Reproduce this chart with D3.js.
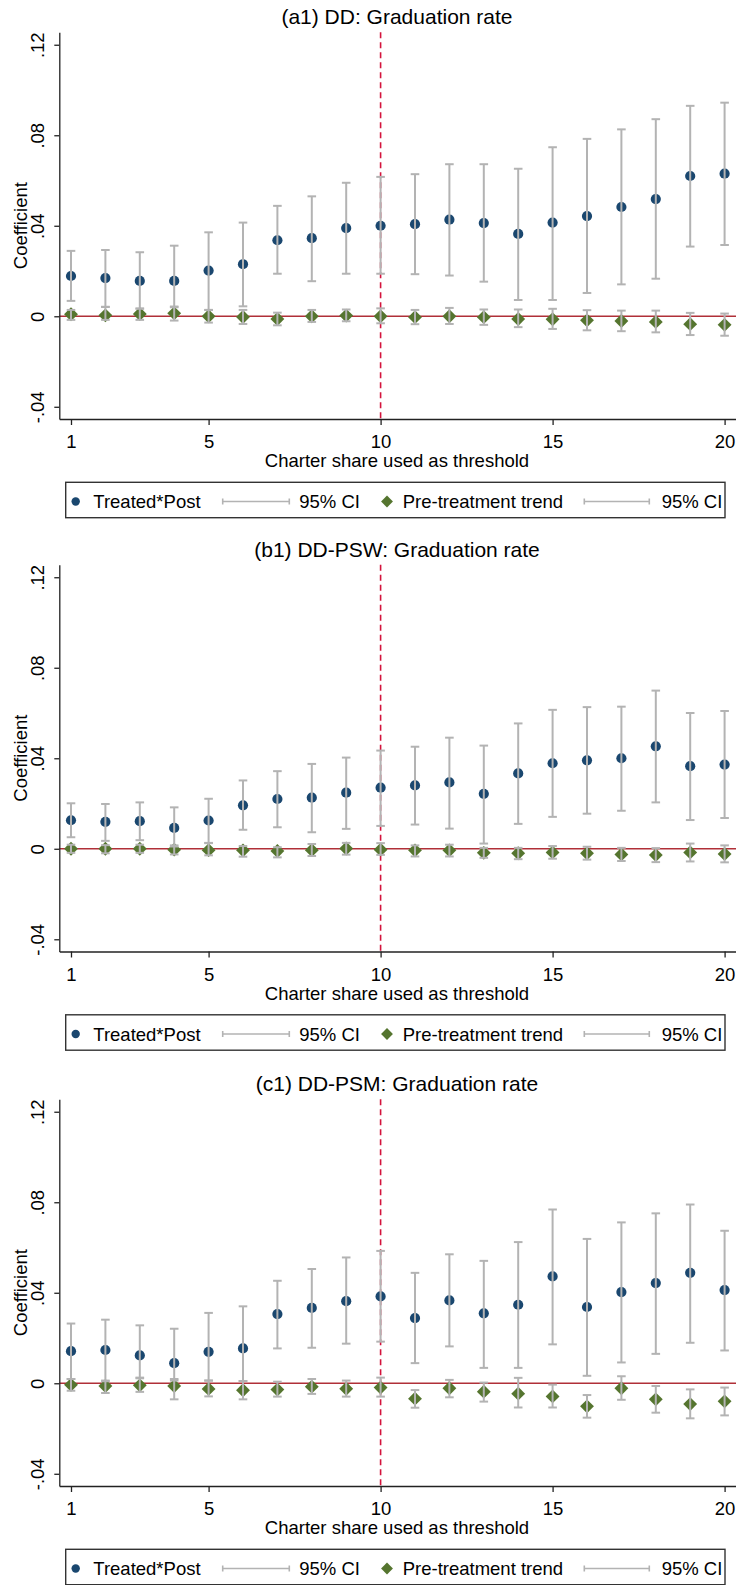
<!DOCTYPE html>
<html lang="en">
<head>
<meta charset="utf-8">
<title>Graduation rate: coefficients by charter share threshold</title>
<script src="https://d3js.org/d3.v7.min.js"></script>
<style>
  body { margin: 0; background: #fff; }
  svg { display: block; font-family: "Liberation Sans", Arial, sans-serif; }
  .axis path, .axis line { stroke: #222; stroke-width: 1.3; }
  .axis text { font-size: 18.5px; fill: #000; }
</style>
</head>
<body>
<svg id="chart" width="736" height="1585"></svg>
<script>
// thresholds (charter share used as threshold)
const thresholds = d3.range(1, 21);

// panel titles
const titles = ["(a1) DD: Graduation rate", "(b1) DD-PSW: Graduation rate", "(c1) DD-PSM: Graduation rate"];

// (a1) DD
const aPost   = [0.0178,0.0169,0.0156,0.0156,0.0202,0.0230,0.0336,0.0345,0.0390,0.0400,0.0407,0.0427,0.0412,0.0364,0.0414,0.0443,0.0483,0.0518,0.0620,0.0630];
const aPostLo = [0.0068,0.0042,0.0034,0.0040,0.0028,0.0044,0.0188,0.0155,0.0188,0.0188,0.0186,0.0180,0.0153,0.0072,0.0072,0.0103,0.0141,0.0166,0.0308,0.0315];
const aPostHi = [0.0289,0.0293,0.0283,0.0312,0.0371,0.0414,0.0488,0.0530,0.0590,0.0616,0.0628,0.0672,0.0672,0.0652,0.0747,0.0784,0.0826,0.0871,0.0930,0.0944];
const aPre    = [0.0009,0.0004,0.0010,0.0013,0.0000,-0.0003,-0.0012,0.0000,0.0003,0.0000,-0.0004,0.0000,-0.0004,-0.0012,-0.0013,-0.0018,-0.0021,-0.0025,-0.0035,-0.0038];
const aPreLo  = [-0.0016,-0.0016,-0.0016,-0.0019,-0.0028,-0.0034,-0.0040,-0.0025,-0.0022,-0.0031,-0.0035,-0.0034,-0.0038,-0.0048,-0.0056,-0.0062,-0.0066,-0.0071,-0.0083,-0.0086];
const aPreHi  = [0.0028,0.0041,0.0034,0.0043,0.0028,0.0028,0.0016,0.0028,0.0030,0.0035,0.0028,0.0037,0.0030,0.0030,0.0033,0.0027,0.0025,0.0025,0.0015,0.0012];

// (b1) DD-PSW
const bPost   = [0.0126,0.0119,0.0122,0.0092,0.0125,0.0192,0.0220,0.0226,0.0248,0.0270,0.0280,0.0293,0.0243,0.0333,0.0378,0.0391,0.0400,0.0453,0.0365,0.0372];
const bPostLo = [0.0051,0.0035,0.0038,0.0010,0.0025,0.0084,0.0095,0.0073,0.0088,0.0101,0.0107,0.0089,0.0023,0.0110,0.0141,0.0155,0.0168,0.0205,0.0127,0.0136];
const bPostHi = [0.0201,0.0198,0.0205,0.0183,0.0221,0.0302,0.0343,0.0375,0.0403,0.0434,0.0451,0.0491,0.0456,0.0554,0.0614,0.0626,0.0628,0.0699,0.0600,0.0609];
const bPre    = [0.0000,0.0000,0.0000,-0.0004,-0.0006,-0.0007,-0.0010,-0.0006,0.0001,-0.0004,-0.0007,-0.0007,-0.0018,-0.0020,-0.0016,-0.0020,-0.0025,-0.0028,-0.0016,-0.0023];
const bPreLo  = [-0.0018,-0.0020,-0.0018,-0.0025,-0.0029,-0.0035,-0.0038,-0.0032,-0.0026,-0.0027,-0.0034,-0.0034,-0.0040,-0.0046,-0.0044,-0.0048,-0.0054,-0.0059,-0.0056,-0.0060];
const bPreHi  = [0.0018,0.0016,0.0018,0.0015,0.0026,0.0012,0.0007,0.0021,0.0026,0.0025,0.0015,0.0018,0.0004,0.0004,0.0012,0.0009,0.0004,0.0003,0.0023,0.0015];

// (c1) DD-PSM
const cPost   = [0.0142,0.0147,0.0123,0.0089,0.0139,0.0154,0.0306,0.0333,0.0363,0.0384,0.0288,0.0366,0.0309,0.0347,0.0472,0.0337,0.0403,0.0443,0.0488,0.0412];
const cPostLo = [0.0019,0.0009,0.0022,0.0012,0.0012,0.0010,0.0154,0.0157,0.0175,0.0184,0.0089,0.0163,0.0068,0.0068,0.0172,0.0033,0.0092,0.0130,0.0179,0.0145];
const cPostHi = [0.0264,0.0281,0.0256,0.0241,0.0311,0.0340,0.0453,0.0505,0.0556,0.0585,0.0488,0.0570,0.0541,0.0624,0.0768,0.0638,0.0711,0.0751,0.0790,0.0674];
const cPre    = [-0.0007,-0.0012,-0.0009,-0.0012,-0.0025,-0.0031,-0.0028,-0.0015,-0.0024,-0.0019,-0.0068,-0.0022,-0.0037,-0.0046,-0.0058,-0.0102,-0.0022,-0.0071,-0.0092,-0.0080];
const cPreLo  = [-0.0033,-0.0043,-0.0038,-0.0071,-0.0058,-0.0071,-0.0059,-0.0047,-0.0059,-0.0059,-0.0108,-0.0062,-0.0081,-0.0107,-0.0107,-0.0152,-0.0073,-0.0130,-0.0155,-0.0142];
const cPreHi  = [0.0019,0.0012,0.0025,0.0019,0.0012,0.0010,0.0007,0.0019,0.0012,0.0025,-0.0030,0.0015,0.0003,0.0024,-0.0006,-0.0052,0.0031,-0.0012,-0.0027,-0.0019];

// y ticks and labels (Stata style)
const yTicks = [-0.04, 0, 0.04, 0.08, 0.12];
const yTickLabels = ["-.04", "0", ".04", ".08", ".12"];
const xTicks = [1, 5, 10, 15, 20];

// legend labels
const legendLabels = ["Treated*Post", "95% CI", "Pre-treatment trend", "95% CI"];

const panels = [
  { title: titles[0], post: aPost, postLo: aPostLo, postHi: aPostHi, pre: aPre, preLo: aPreLo, preHi: aPreHi },
  { title: titles[1], post: bPost, postLo: bPostLo, postHi: bPostHi, pre: bPre, preLo: bPreLo, preHi: bPreHi },
  { title: titles[2], post: cPost, postLo: cPostLo, postHi: cPostHi, pre: cPre, preLo: cPreLo, preHi: cPreHi }
];
const panelOffsets = [0, 532.5, 1067];

// colours
const navy = "#1a476f", green = "#55752f", ciGray = "#b3b3b3";
const refRed = "#d3133c", zeroRed = "#b03038";

// plot region of one panel
const plotLeft = 59.3, plotTop = 32.3, plotBottom = 419;

const x = d3.scaleLinear().domain([0.66, 21.4]).range([plotLeft, plotLeft + 20.74 * 34.4]);
const y = d3.scaleLinear().domain([-0.0454, 0.1255]).range([plotBottom, plotTop]);

const svg = d3.select("#chart");
const diamond = d3.symbol().type(d3.symbolSquare).size(96);

panels.forEach((p, i) => {
  const g = svg.append("g").attr("transform", `translate(0,${panelOffsets[i]})`);

  // title
  g.append("text")
    .attr("x", 397).attr("y", 24)
    .attr("text-anchor", "middle")
    .style("font-size", "21px")
    .text(p.title);

  // zero line
  g.append("line")
    .attr("x1", plotLeft).attr("x2", 736)
    .attr("y1", y(0)).attr("y2", y(0))
    .attr("stroke", zeroRed).attr("stroke-width", 1.3);

  // reference line at threshold 10
  g.append("line")
    .attr("x1", x(10)).attr("x2", x(10))
    .attr("y1", plotTop).attr("y2", plotBottom)
    .attr("stroke", refRed).attr("stroke-width", 1.6)
    .attr("stroke-dasharray", "6,4");

  // axes
  const yAxis = g.append("g").attr("class", "axis")
    .attr("transform", `translate(${plotLeft},0)`)
    .call(d3.axisLeft(y).tickValues(yTicks)
      .tickFormat((d, k) => yTickLabels[k]).tickSize(5).tickSizeOuter(0));
  yAxis.selectAll("text")
    .attr("x", 0).attr("dy", 0)
    .attr("text-anchor", "middle")
    .attr("transform", "translate(-15,0) rotate(-90)");

  g.append("g").attr("class", "axis")
    .attr("transform", `translate(0,${plotBottom})`)
    .call(d3.axisBottom(x).tickValues(xTicks).tickSize(6).tickSizeOuter(0).tickPadding(10));

  g.append("text")
    .attr("transform", `translate(26.7,${(plotTop + plotBottom) / 2}) rotate(-90)`)
    .attr("text-anchor", "middle")
    .style("font-size", "18.5px")
    .text("Coefficient");

  g.append("text")
    .attr("x", 397).attr("y", 467)
    .attr("text-anchor", "middle")
    .style("font-size", "18.5px")
    .text("Charter share used as threshold");

  // markers first, CI drawn on top as in the original
  const drawCI = (lo, hi) => {
    const ci = g.append("g").attr("stroke", ciGray).attr("stroke-width", 2);
    thresholds.forEach((t, k) => {
      ci.append("line").attr("x1", x(t)).attr("x2", x(t)).attr("y1", y(lo[k])).attr("y2", y(hi[k]));
      ci.append("line").attr("x1", x(t) - 4.3).attr("x2", x(t) + 4.3).attr("y1", y(lo[k])).attr("y2", y(lo[k]));
      ci.append("line").attr("x1", x(t) - 4.3).attr("x2", x(t) + 4.3).attr("y1", y(hi[k])).attr("y2", y(hi[k]));
    });
  };

  g.append("g").selectAll("path")
    .data(thresholds)
    .join("path")
    .attr("d", diamond)
    .attr("transform", (t, k) => `translate(${x(t)},${y(p.pre[k])}) rotate(45)`)
    .attr("fill", green);

  g.append("g").selectAll("circle")
    .data(thresholds)
    .join("circle")
    .attr("cx", t => x(t))
    .attr("cy", (t, k) => y(p.post[k]))
    .attr("r", 5.1)
    .attr("fill", navy);

  drawCI(p.preLo, p.preHi);
  drawCI(p.postLo, p.postHi);

  // legend
  const lg = g.append("g");
  lg.append("rect")
    .attr("x", 65.7).attr("y", 482.3)
    .attr("width", 659.3).attr("height", 35.4)
    .attr("fill", "#fff").attr("stroke", "#333").attr("stroke-width", 1.4);

  const ly = 501.5;
  lg.append("circle").attr("cx", 75.7).attr("cy", ly).attr("r", 4.2).attr("fill", navy);
  lg.append("path").attr("d", d3.symbol().type(d3.symbolSquare).size(70))
    .attr("transform", `translate(387,${ly}) rotate(45)`).attr("fill", green);

  [[222.7, 289.3], [584.3, 649.3]].forEach(([x1, x2]) => {
    const s = lg.append("g").attr("stroke", ciGray).attr("stroke-width", 1.6);
    s.append("line").attr("x1", x1).attr("x2", x2).attr("y1", ly).attr("y2", ly);
    s.append("line").attr("x1", x1).attr("x2", x1).attr("y1", ly - 3).attr("y2", ly + 3);
    s.append("line").attr("x1", x2).attr("x2", x2).attr("y1", ly - 3).attr("y2", ly + 3);
  });

  [93.3, 299.3, 402.7, 661.7].forEach((lx, k) => {
    lg.append("text").attr("x", lx).attr("y", 508.3)
      .style("font-size", "18.5px")
      .text(legendLabels[k]);
  });
});
</script>
</body>
</html>
